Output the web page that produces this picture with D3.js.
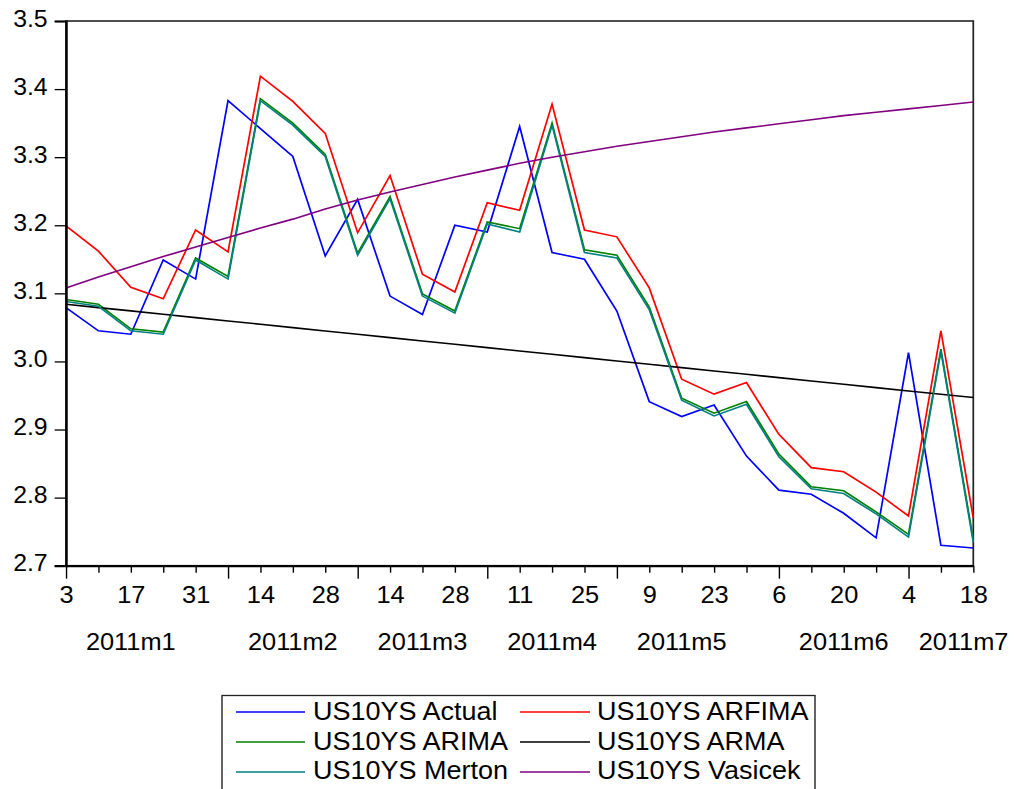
<!DOCTYPE html>
<html><head><meta charset="utf-8">
<script src="https://cdn.jsdelivr.net/npm/d3@7"></script>
<style>
body{margin:0;background:#fff}
text{font-family:"Liberation Sans",Arial,sans-serif;fill:#000}
</style>
</head><body>
<svg id="c" width="1016" height="789"></svg>
<script>
// ---- data ----
const weekDays = [3,10,17,24,31,7,14,21,28,7,14,21,28,4,11,18,25,2,9,16,23,30,6,13,20,27,4,11,18];
const monthLabels = ["2011m1","2011m2","2011m3","2011m4","2011m5","2011m6","2011m7"];
const monthLabelIdx = [2,7,11,15,19,24,27.7];
const monthStartIdx = [0,5,9,13,17,22,26];
const yTicks = [2.7,2.8,2.9,3.0,3.1,3.2,3.3,3.4,3.5];

const actual  = [3.079,3.045,3.040,3.149,3.121,3.383,3.342,3.301,3.155,3.238,3.096,3.069,3.200,3.190,3.345,3.160,3.150,3.074,2.941,2.919,2.936,2.861,2.811,2.805,2.777,2.741,3.013,2.730,2.726];
const arfima  = [3.199,3.162,3.109,3.092,3.193,3.161,3.419,3.382,3.335,3.189,3.273,3.128,3.102,3.233,3.222,3.378,3.193,3.183,3.108,2.974,2.952,2.969,2.893,2.844,2.838,2.808,2.773,3.045,2.770];
const arima   = [3.091,3.084,3.048,3.043,3.152,3.125,3.386,3.350,3.304,3.159,3.242,3.099,3.074,3.205,3.195,3.350,3.164,3.156,3.080,2.946,2.924,2.941,2.864,2.816,2.810,2.779,2.746,3.018,2.738];
const arma    = [3.0840,3.0791,3.0742,3.0693,3.0644,3.0595,3.0546,3.0497,3.0448,3.0399,3.0350,3.0301,3.0252,3.0203,3.0154,3.0105,3.0056,3.0007,2.9958,2.9909,2.9860,2.9811,2.9762,2.9713,2.9664,2.9615,2.9566,2.9517,2.9470];
const merton  = [3.088,3.081,3.045,3.040,3.149,3.121,3.383,3.347,3.301,3.156,3.239,3.096,3.071,3.202,3.190,3.347,3.160,3.152,3.076,2.943,2.920,2.937,2.860,2.813,2.806,2.776,2.742,3.015,2.734];
const vasicek = [3.108,3.124,3.139,3.154,3.168,3.182,3.196,3.209,3.224,3.237,3.249,3.260,3.271,3.281,3.291,3.300,3.308,3.316,3.323,3.330,3.337,3.343,3.349,3.355,3.361,3.366,3.371,3.376,3.381];

const seriesNames = ["US10YS Actual","US10YS ARFIMA","US10YS ARIMA","US10YS ARMA","US10YS Merton","US10YS Vasicek"];
const seriesColors = ["#0000ff","#ff0000","#008000","#000000","#008080","#800080"];
const seriesData = [actual, arfima, arima, arma, merton, vasicek];

// ---- layout (internal coords, stretched horizontally) ----
const SX = 1.08;
const L = 66/SX, R = 973.3/SX, T = 21, B = 565.7;

const svg = d3.select("#c");
const g = svg.append("g").attr("transform", `scale(${SX},1)`);

const x = d3.scaleLinear().domain([0, weekDays.length-1]).range([L, R]);
const y = d3.scaleLinear().domain([2.7, 3.5]).range([B, T]);

// frame
g.append("rect").attr("x",L).attr("y",T).attr("width",R-L).attr("height",B-T)
  .attr("fill","none").attr("stroke","#222").attr("stroke-width",1.6);

// lines
const line = d3.line().x((d,i)=>x(i)).y(d=>y(d));
seriesData.forEach((s,k)=>{
  g.append("path").datum(s).attr("d",line).attr("fill","none")
   .attr("stroke",seriesColors[k]).attr("stroke-width",1.6).attr("stroke-linejoin","miter");
});

// y axis
const yAxis = d3.axisLeft(y).tickValues(yTicks).tickFormat(d3.format(".1f")).tickSize(10.5).tickPadding(6.5);
const ya = g.append("g").attr("transform",`translate(${L},0)`).call(yAxis);
ya.select(".domain").attr("stroke","#000").attr("stroke-width",2.2);
ya.selectAll(".tick line").attr("stroke","#000").attr("stroke-width",1.3);
ya.selectAll(".tick text").attr("font-size",23).attr("dy","0.22em").attr("font-family","Liberation Sans, Arial, sans-serif");

// x axis
const idx = d3.range(weekDays.length);
const xAxis = d3.axisBottom(x).tickValues(idx)
  .tickFormat(i => i%2===0 ? String(weekDays[i]) : "").tickSize(0).tickPadding(0);
const xa = g.append("g").attr("transform",`translate(0,${B})`).call(xAxis);
xa.select(".domain").attr("stroke","#000").attr("stroke-width",2.2);
xa.selectAll(".tick line")
  .attr("y2", i => monthStartIdx.includes(i) ? 13 : 7)
  .attr("stroke","#000").attr("stroke-width",1.3);
xa.selectAll(".tick text").attr("font-size",23.5).attr("y",37.6).attr("dy",0)
  .attr("font-family","Liberation Sans, Arial, sans-serif");

// month labels
g.append("g").selectAll("text").data(monthLabels).join("text")
  .attr("x",(d,i)=>x(monthLabelIdx[i])).attr("y",650)
  .attr("text-anchor","middle").attr("font-size",23.5).text(d=>d);

// legend
const lg = g.append("g");
lg.append("rect").attr("x",222/SX).attr("y",695.5).attr("width",(815-222)/SX).attr("height",120)
  .attr("fill","#fff").attr("stroke","#222").attr("stroke-width",1.3);
const colX = [[236,305,313],[520,590,597]];
const rowLineY = [712,742,772], rowTextY = [720.5,750,779.5];
seriesNames.forEach((n,k)=>{
  const c = k%2, r = Math.floor(k/2);
  lg.append("line").attr("x1",colX[c][0]/SX).attr("x2",colX[c][1]/SX)
    .attr("y1",rowLineY[r]).attr("y2",rowLineY[r])
    .attr("stroke",seriesColors[k]).attr("stroke-width",1.6);
  lg.append("text").attr("x",colX[c][2]/SX).attr("y",rowTextY[r])
    .attr("font-size",25).text(n);
});
</script>
</body></html>
